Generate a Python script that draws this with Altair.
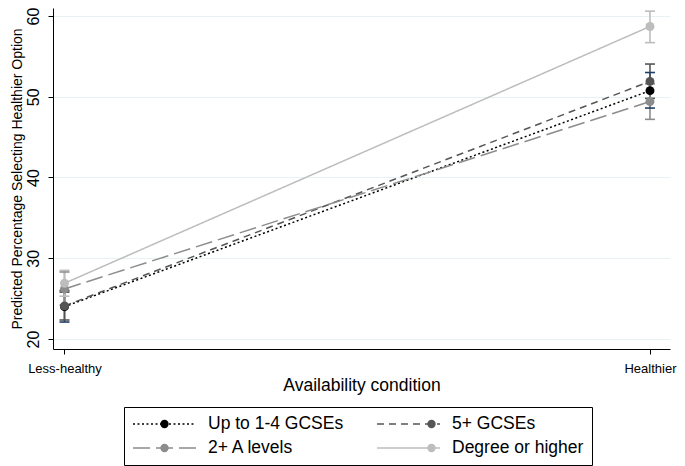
import altair as alt
import pandas as pd

groups = ["Up to 1-4 GCSEs", "5+ GCSEs", "2+ A levels", "Degree or higher"]
conditions = [0, 1]
condition_labels = ["Less-healthy", "Healthier"]

less_mean = [24.0, 24.1, 26.2, 26.9]
less_lo = [22.1, 22.35, 24.2, 25.3]
less_hi = [26.0, 25.8, 28.3, 28.5]

health_mean = [50.75, 51.9, 49.4, 58.7]
health_lo = [48.6, 49.8, 47.2, 56.7]
health_hi = [53.0, 54.05, 51.6, 60.6]

y_ticks = [20, 30, 40, 50, 60]

line_colors = ["#000000", "#555555", "#8c8c8c", "#bdbdbd"]
bar_colors = ["#1f3f66", "#555555", "#8c8c8c", "#bdbdbd"]
dashes = [[2, 2.5], [7, 5], [17, 6], [1, 0]]

# legends fill column by column, so list the entries in that order
legend_idx = [0, 2, 1, 3]
legend_order = [groups[i] for i in legend_idx]
legend_line_colors = [line_colors[i] for i in legend_idx]
legend_dashes = [dashes[i] for i in legend_idx]

rows = []
for i, g in enumerate(groups):
    rows.append({"group": g, "order": i, "cond": conditions[0],
                 "mean": less_mean[i], "lo": less_lo[i], "hi": less_hi[i]})
    rows.append({"group": g, "order": i, "cond": conditions[1],
                 "mean": health_mean[i], "lo": health_lo[i], "hi": health_hi[i]})
df = pd.DataFrame(rows)

FONT = "Liberation Sans"

label_expr = "datum.value == %d ? '%s' : '%s'" % (conditions[0], condition_labels[0], condition_labels[1])

x_enc = alt.X(
    "cond:Q",
    scale=alt.Scale(domain=[-0.01964, 1.0342], nice=False, zero=False),
    axis=alt.Axis(
        values=conditions, labelExpr=label_expr, grid=False, tickSize=5,
        tickColor="black", domainColor="black", labelColor="black",
        labelFontSize=13, labelFont=FONT, labelPadding=8, labelFlush=False,
        title="Availability condition", titleFont=FONT, titleFontSize=17.5,
        titleFontWeight="normal", titleColor="black", titleY=41,
        titleBaseline="alphabetic",
    ),
)
y_scale = alt.Scale(domain=[18.76, 60.99], nice=False, zero=False)
y_axis = alt.Axis(
    values=y_ticks, grid=True, gridColor="#e8f1f3", gridWidth=1,
    tickSize=5, tickColor="black", domainColor="black", labelColor="black",
    labelAngle=-90, labelAlign="center", labelBaseline="bottom",
    labelFontSize=16, labelFont=FONT, labelPadding=7,
    title="Predicted Percentage Selecting Healthier Option",
    titleFont=FONT, titleFontSize=14, titleFontWeight="normal", titleColor="black",
    titleAngle=-90, titleAlign="center", titleBaseline="alphabetic",
    titleX=-32, titleY=170.5,
)

# line part of the legend (with box and labels)
legend_lines = alt.Legend(
    title=None, orient="none", legendX=71, legendY=399, columns=2,
    symbolType="stroke", symbolSize=3969, symbolStrokeWidth=1.5, clipHeight=18,
    labelFont=FONT, labelFontSize=17.5, labelFontWeight="normal", labelColor="black",
    labelOffset=11, columnPadding=32, rowPadding=6, padding=8, strokeColor="black",
)
# marker part of the legend, laid over the middle of each line symbol
legend_pts = alt.Legend(
    title=None, orient="none", legendX=71, legendY=399, columns=2,
    symbolType="circle", symbolSize=70, symbolStrokeWidth=0, clipHeight=18,
    symbolOffset=23.75,
    labelFont=FONT, labelFontSize=17.5, labelFontWeight="normal", labelOpacity=0,
    labelOffset=58.5, columnPadding=32, rowPadding=6, padding=8,
)

base = alt.Chart(df)

bars = base.mark_rule(strokeWidth=1.6).encode(
    x=x_enc, y=alt.Y("lo:Q", scale=y_scale, axis=y_axis), y2="hi:Q",
    color=alt.Color("group:N", scale=alt.Scale(domain=groups, range=bar_colors), legend=None),
    order="order:Q",
)
caps_lo = base.mark_rule(strokeWidth=1.6, xOffset=-5, x2Offset=5).encode(
    x="cond:Q", x2="cond:Q", y=alt.Y("lo:Q"),
    color=alt.Color("group:N", legend=None), order="order:Q",
)
caps_hi = base.mark_rule(strokeWidth=1.6, xOffset=-5, x2Offset=5).encode(
    x="cond:Q", x2="cond:Q", y=alt.Y("hi:Q"),
    color=alt.Color("group:N", legend=None), order="order:Q",
)
lines = base.mark_line(strokeWidth=1.5).encode(
    x="cond:Q", y="mean:Q",
    stroke=alt.Stroke("group:N", scale=alt.Scale(domain=legend_order, range=legend_line_colors),
                      legend=legend_lines),
    strokeDash=alt.StrokeDash("group:N", scale=alt.Scale(domain=legend_order, range=legend_dashes),
                              legend=legend_lines),
)
points = base.mark_point(filled=True, size=80, opacity=1, strokeWidth=0).encode(
    x="cond:Q", y="mean:Q",
    fill=alt.Fill("group:N", sort=legend_order, scale=alt.Scale(range=legend_line_colors),
                  legend=legend_pts),
    order="order:Q",
)

chart = alt.layer(bars, caps_lo, caps_hi, lines, points).properties(
    width=617, height=341,
    autosize=alt.AutoSizeParams(type="none"),
    padding={"left": 45, "top": 0, "right": 7, "bottom": 118},
    background="white",
).configure_view(stroke=None)

chart.save("out.html", embed_options={"renderer": "svg", "actions": False})
